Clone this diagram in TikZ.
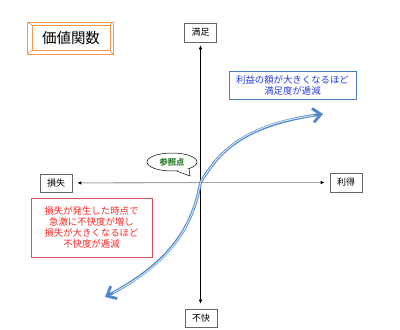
\documentclass[tikz,border=0pt]{standalone}
\usepackage{fontspec}
\setmainfont{Noto Sans CJK JP}
\newfontfamily\jp{Noto Sans CJK JP}
\usetikzlibrary{arrows.meta,shapes.geometric,calc}
\definecolor{curveblue}{HTML}{5088CA}
\definecolor{curvelight}{HTML}{D4E3F5}
\definecolor{titleor}{HTML}{F79646}
\definecolor{boxblue}{HTML}{4A7EBB}
\definecolor{txtblue}{HTML}{2A3CE0}
\definecolor{boxred}{HTML}{D05050}
\definecolor{txtred}{HTML}{FF2A2A}
\definecolor{refgreen}{HTML}{2E7D2E}
\tikzset{
  axislabel/.style={draw=gray!80!black, line width=0.6pt, fill=white, minimum width=32pt, minimum height=19pt, inner sep=1pt, font=\jp\fontsize{9}{10}\selectfont},
  axisv/.style={black, line width=0.6pt, -{Latex[length=4pt,width=3.5pt]}},
  axish/.style={gray!70, line width=1.1pt, -{Latex[length=4pt,width=3.5pt,black]}},
  curvemain/.style={curveblue, line width=2.8pt, -{Straight Barb[length=8pt,width=14pt]}},
  curveinner/.style={curvelight, line width=1pt},
  notebox/.style={line width=0.9pt, fill=white, align=center, inner sep=2pt, font=\jp\fontsize{9.4}{11}\selectfont}
}
\begin{document}
\begin{tikzpicture}[x=1pt,y=-1pt]
\useasboundingbox (0,0) rectangle (400,330);
% title frame
\draw[titleor, line width=0.9pt] (27,22) rectangle (113,54);
\draw[titleor, line width=0.9pt] (32,25) rectangle (110,50);
\draw[titleor, line width=0.7pt] (27,22) -- (32,25) (113,22) -- (110,25) (27,54) -- (32,50) (113,54) -- (110,50);
\node[font=\jp\fontsize{14.5}{16}\selectfont] (title) at (71,38) {価値関数};
% axis labels
\coordinate (O) at (200.5,182.5);
\node[axislabel] (man) at (200.5,32.5) {満足};
\node[axislabel, minimum height=18pt] (fukai) at (201,318) {不快};
\node[axislabel, minimum height=18pt] (sons) at (56,183) {損失};
\node[axislabel] (ritoku) at (346,182.5) {利得};
% axes
\draw[axisv, shorten >=3pt] (O) -- (man);
\draw[axisv, shorten >=5pt] (O) -- (O |- fukai.north);
\draw[axish, shorten >=5pt] (O) -- (sons);
\draw[axish, shorten >=5pt] (O) -- (ritoku);
% curves
\coordinate (gain) at (323,114);
\coordinate (loss) at (105,297);
\draw[curvemain] (O) .. controls (220,150) and (245,125) .. (gain);
\draw[curveinner, shorten >=9pt] (O) .. controls (220,150) and (245,125) .. (gain);
\draw[curvemain] (O) .. controls (193,225) and (172,262) .. (loss);
\draw[curveinner, shorten >=9pt] (O) .. controls (193,225) and (172,262) .. (loss);
% note boxes
\node[notebox, draw=boxblue, text=txtblue, minimum width=127pt, minimum height=28pt] (gainnote) at (292.5,85) {利益の額が大きくなるほど\\満足度が逓減};
\node[notebox, draw=boxred, text=txtred, minimum width=121pt, minimum height=59pt] (lossnote) at (91.5,227.5) {損失が発生した時点で\\急激に不快度が増し\\損失が大きくなるほど\\不快度が逓減};
% callout
\node[ellipse, draw=black, line width=0.5pt, fill=white, minimum width=50pt, minimum height=18pt, inner sep=1pt, text=refgreen, font=\jp\bfseries\fontsize{8.3}{9}\selectfont] (ref) at (172,162) {参照点};
\coordinate (tip) at (190,176);
\fill[white] (ref.-22) -- (tip) -- (ref.-62) -- ($(ref.-42)!0.15!(ref.center)$) -- cycle;
\draw[black, line width=0.5pt] (ref.-22) -- (tip) -- (ref.-62);
\end{tikzpicture}
\end{document}
